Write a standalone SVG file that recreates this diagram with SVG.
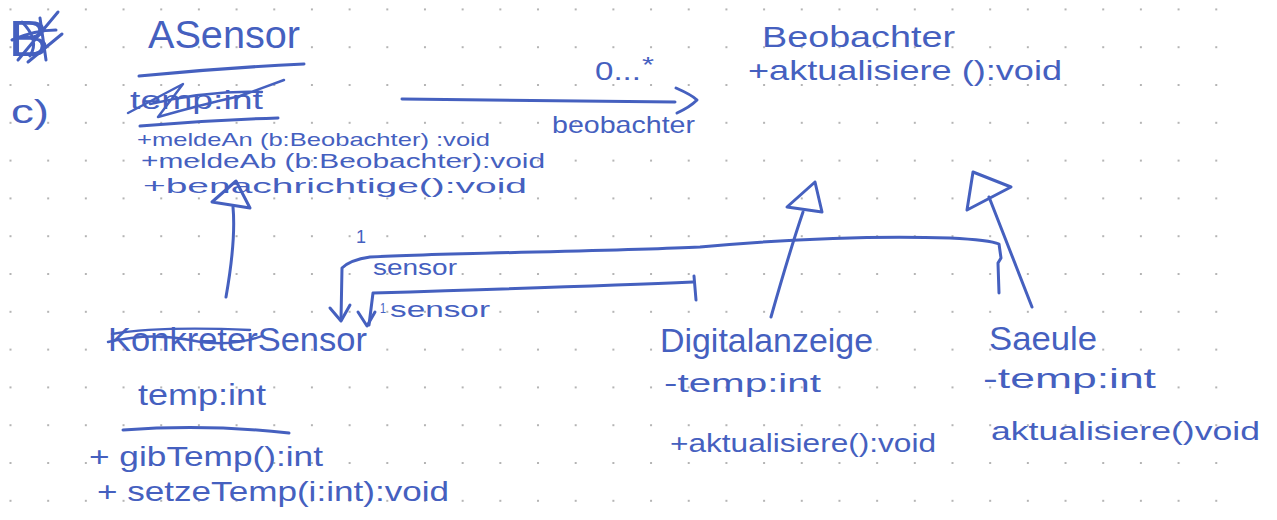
<svg xmlns="http://www.w3.org/2000/svg" width="1277" height="520" viewBox="0 0 1277 520">
  <defs>
    <!-- dotted notebook paper -->
    <pattern id="dots" x="-8.34" y="-9.5" width="37.68" height="37.8" patternUnits="userSpaceOnUse">
      <circle cx="18.84" cy="18.9" r="1.1" fill="#a3a3a3"/>
    </pattern>
  </defs>
  <style>
    .ink{fill:none;stroke:#4560bf;stroke-width:3;stroke-linecap:round;stroke-linejoin:round}
    .fine{stroke-width:2.4}
    text{font-family:"Liberation Sans","DejaVu Sans",sans-serif;fill:#4560bf}
  </style>

  <rect x="0" y="0" width="1277" height="520" fill="#ffffff"/>
  <rect x="0" y="0" width="1236" height="520" fill="url(#dots)"/>

  <!-- margin marks -->
  <g id="margin">
    <text x="8" y="56" font-size="50" textLength="42" lengthAdjust="spacingAndGlyphs">B</text>
    <path class="ink" d="M18,60 L58,12 M12,40 Q35,30 56,30 M28,62 L62,34 M40,18 L46,60 M22,22 Q40,40 30,56"/>
    <text x="11" y="123" font-size="34" textLength="38" lengthAdjust="spacingAndGlyphs">c)</text>
  </g>

  <!-- class ASensor -->
  <g id="asensor">
    <text x="148" y="48" font-size="38" textLength="152" lengthAdjust="spacingAndGlyphs">ASensor</text>
    <path class="ink" d="M139,76 Q220,68 304,64"/>
    <text x="130" y="109" font-size="26" textLength="133" lengthAdjust="spacingAndGlyphs">temp:int</text>
    <path class="ink fine" d="M128,113 L183,84 L158,117 Q200,105 240,96 L284,80 M150,104 Q210,90 262,92"/>
    <path class="ink" d="M140,126 Q210,120 278,118"/>
    <text x="137" y="146" font-size="19" textLength="353" lengthAdjust="spacingAndGlyphs">+meldeAn (b:Beobachter) :void</text>
    <text x="141" y="168" font-size="20" textLength="404" lengthAdjust="spacingAndGlyphs">+meldeAb (b:Beobachter):void</text>
    <text x="143" y="193" font-size="21" textLength="384" lengthAdjust="spacingAndGlyphs">+benachrichtige():void</text>
  </g>

  <!-- class Beobachter -->
  <g id="beobachter">
    <text x="762" y="47" font-size="30" textLength="193" lengthAdjust="spacingAndGlyphs">Beobachter</text>
    <text x="748" y="80" font-size="28" textLength="314" lengthAdjust="spacingAndGlyphs">+aktualisiere ():void</text>
  </g>

  <!-- class KonkreterSensor -->
  <g id="konkreter-sensor">
    <text x="108" y="351" font-size="34" textLength="259" lengthAdjust="spacingAndGlyphs">KonkreterSensor</text>
    <path class="ink fine" d="M108,342 Q150,332 190,340 Q230,348 262,336 M112,334 Q160,326 250,330"/>
    <text x="138" y="405" font-size="30" textLength="128" lengthAdjust="spacingAndGlyphs">temp:int</text>
    <path class="ink" d="M123,430 Q207,424 289,433"/>
    <text x="89" y="466" font-size="28" textLength="234" lengthAdjust="spacingAndGlyphs">+ gibTemp():int</text>
    <text x="97" y="501" font-size="28" textLength="352" lengthAdjust="spacingAndGlyphs">+ setzeTemp(i:int):void</text>
  </g>

  <!-- class Digitalanzeige -->
  <g id="digitalanzeige">
    <text x="660" y="352" font-size="34" textLength="213" lengthAdjust="spacingAndGlyphs">Digitalanzeige</text>
    <text x="664" y="392" font-size="26" textLength="157" lengthAdjust="spacingAndGlyphs">-temp:int</text>
    <text x="670" y="452" font-size="26" textLength="266" lengthAdjust="spacingAndGlyphs">+aktualisiere():void</text>
  </g>

  <!-- class Saeule -->
  <g id="saeule">
    <text x="989" y="350" font-size="34" textLength="108" lengthAdjust="spacingAndGlyphs">Saeule</text>
    <text x="983" y="388" font-size="28" textLength="173" lengthAdjust="spacingAndGlyphs">-temp:int</text>
    <text x="991" y="440" font-size="26" textLength="269" lengthAdjust="spacingAndGlyphs">aktualisiere()void</text>
  </g>

  <!-- associations and generalizations -->
  <g id="connectors">
    <!-- ASensor to Beobachter -->
    <path class="ink" d="M402,99 Q540,101 675,102"/>
    <path class="ink" d="M676,88 Q692,95 697,100 Q690,107 677,113"/>
    <text x="595" y="80" font-size="26" textLength="46" lengthAdjust="spacingAndGlyphs">0...</text>
    <text x="642" y="72" font-size="22" textLength="12" lengthAdjust="spacingAndGlyphs">*</text>
    <text x="552" y="133" font-size="24" textLength="143" lengthAdjust="spacingAndGlyphs">beobachter</text>

    <!-- KonkreterSensor generalizes ASensor -->
    <path class="ink" d="M236,181 L212,202 L250,208 Z"/>
    <path class="ink" d="M233,207 Q236,240 226,297"/>

    <!-- Digitalanzeige generalizes Beobachter -->
    <path class="ink" d="M815,182 L787,207 L822,212 Z"/>
    <path class="ink" d="M803,212 Q790,250 771,317"/>

    <!-- Saeule generalizes Beobachter -->
    <path class="ink" d="M973,172 L1011,187 L967,210 Z"/>
    <path class="ink" d="M989,197 L1032,307"/>

    <!-- Saeule to KonkreterSensor -->
    <path class="ink" d="M999,293 L998,263 L1001,258 L999,244 Q990,240 950,238 C890,236 800,238 700,247 C620,251 450,253 370,257 Q350,260 342,268 L341,320"/>
    <path class="ink" d="M330,308 L341,321 L350,305"/>
    <text x="356" y="243" font-size="18" textLength="10" lengthAdjust="spacingAndGlyphs">1</text>
    <text x="373" y="275" font-size="22" textLength="84" lengthAdjust="spacingAndGlyphs">sensor</text>

    <!-- Digitalanzeige to KonkreterSensor -->
    <path class="ink" d="M696,300 L694,276"/>
    <path class="ink" d="M693,282 Q600,286 373,293 L369,325"/>
    <path class="ink" d="M358,312 L367,326 L375,312"/>
    <text x="380" y="313" font-size="15" textLength="6" lengthAdjust="spacingAndGlyphs">1</text>
    <text x="390" y="317" font-size="22" textLength="100" lengthAdjust="spacingAndGlyphs">sensor</text>
  </g>
</svg>
